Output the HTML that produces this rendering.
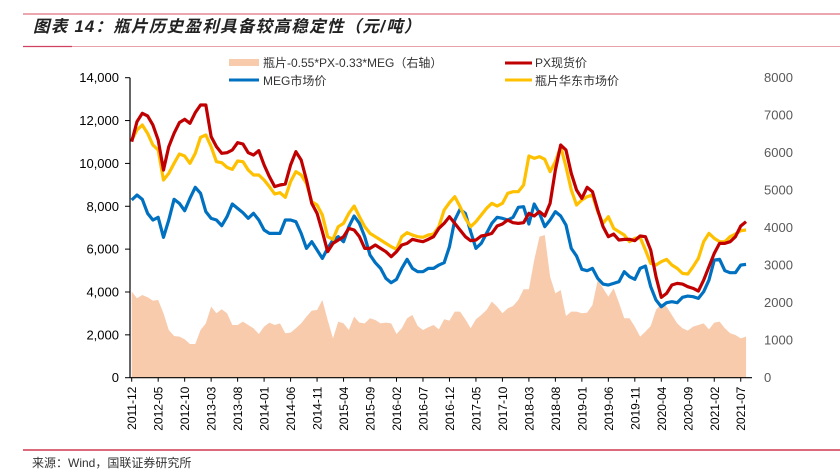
<!DOCTYPE html>
<html><head><meta charset="utf-8">
<style>
body{margin:0;background:#fff;}
#wrap{position:relative;width:840px;height:474px;overflow:hidden;font-family:"Liberation Sans","Noto Sans CJK SC",sans-serif;}
svg text{font-family:"Liberation Sans","Noto Sans CJK SC",sans-serif;}
</style></head>
<body>
<div id="wrap">
<svg id="chart" width="840" height="474">
  <line x1="23" y1="14" x2="840" y2="14" stroke="#E07080" stroke-width="1.2"/>
  <text x="33" y="32" font-size="16.5" letter-spacing="1.3" font-weight="bold" font-style="italic" fill="#222">图表 14：瓶片历史盈利具备较高稳定性（元/吨）</text>
  <line x1="23" y1="46.5" x2="840" y2="46.5" stroke="#E8A0AA" stroke-width="1"/>
  <line x1="23" y1="46.5" x2="72" y2="46.5" stroke="#D04060" stroke-width="1.2"/>
  <g id="plot"></g>
  <g id="legend">
    <rect x="229" y="59" width="30" height="7" fill="#F8CBAD"/>
    <text x="263" y="67" font-size="12" fill="#333">瓶片-0.55*PX-0.33*MEG（右轴）</text>
    <line x1="229" y1="80" x2="259" y2="80" stroke="#0070C0" stroke-width="3"/>
    <text x="263" y="85" font-size="12" fill="#333">MEG市场价</text>
    <line x1="505" y1="63" x2="532" y2="63" stroke="#C00000" stroke-width="3"/>
    <text x="535" y="67" font-size="12" fill="#333">PX现货价</text>
    <line x1="505" y1="80" x2="532" y2="80" stroke="#FFC000" stroke-width="3"/>
    <text x="535" y="85" font-size="12" fill="#333">瓶片华东市场价</text>
  </g>
  <line x1="23" y1="450" x2="840" y2="450" stroke="#C8102E" stroke-width="1.2"/>
  <text x="32" y="467" font-size="12" fill="#333">来源：Wind，国联证券研究所</text>
</svg>
</div>
<script>
const startYear = 2011, startMonth = 12;
const pxPrice = [11015,11949,12338,12213,11793,11093,9693,10782,11404,11902,12058,11871,12369,12727,12727,11249,10782,10471,10502,10626,10969,10906,10502,10393,10595,9926,9382,8915,8993,9039,9926,10548,10159,9226,8137,7670,6814,5881,6270,6425,
6581,6970,6892,6581,6036,6036,6192,6036,5881,5647,5881,6192,6270,6456,6394,6347,6456,6581,6970,7203,7514,7203,6892,6581,6394,6425,6612,6658,6736,7079,7172,7359,7234,7203,7234,7670,7546,
7748,7546,8137,9693,10860,10626,9537,8759,8370,8884,8681,7826,7048,6581,6705,6425,6456,6456,6394,6612,6581,5958,4714,3749,3936,4325,4402,4371,4247,4169,4044,4558,5180,5802,6270,6270,6347,6581,7079,7281];
const bottlePrice = [11093,11560,11793,11404,10860,10626,9226,9537,10004,10440,10346,10004,10471,11218,11327,10782,10082,10035,9817,9724,10113,10082,9693,9459,9459,9226,8915,8573,8635,8417,9148,9615,9459,9070,8215,8059,7592,6581,6456,7048,
7203,7670,8012,7514,7048,6736,6581,6425,6270,6114,5989,6581,6768,6659,6581,6550,6659,6705,7048,7826,8168,8448,7981,7437,7048,7281,7592,7903,8137,8012,8137,8604,8681,8681,8993,10346,10237,
10315,10191,9615,10082,10782,9848,8759,8059,8292,8448,8526,7748,7203,7514,6970,6814,6659,6347,6503,6550,5958,5336,5258,5414,5523,5258,5102,4869,4838,5180,5569,6347,6736,6503,6347,6347,6581,6705,6861,6892];
const megPrice = [8292,8526,8324,7670,7359,7483,6550,7359,8324,8137,7794,8370,8884,8604,7748,7437,7359,7094,7514,8106,7903,7701,7437,7670,7359,6892,6736,6736,6736,7359,7359,7281,6736,6036,6347,5958,5569,6036,6425,6581,
6347,7048,7546,7203,6581,5725,5367,5102,4636,4433,4589,5102,5523,5102,4947,4947,5102,5102,5258,5367,6114,7359,7857,7670,6814,6036,6270,6736,7203,7483,7437,7359,7483,7950,7981,7172,8106,
7670,7048,7359,7748,7546,7125,6036,5678,5056,4994,5102,4636,4371,4325,4402,4480,4947,4714,4589,5102,5211,4247,3624,3313,3500,3546,3500,3749,3811,3780,3702,4014,4558,5491,5523,4994,4900,4900,5258,5289];
const margin = [2295,2117,2206,2144,2055,2073,1717,1273,1113,1095,1024,899,899,1273,1450,1895,1717,1824,1717,1406,1406,1495,1406,1317,1166,1362,1468,1406,1450,1184,1201,1317,1450,1628,1788,1806,2073,1539,1050,1495,
1450,1273,1628,1468,1450,1584,1539,1450,1468,1450,1166,1317,1584,1672,1379,1273,1344,1406,1290,1557,1521,1762,1762,1557,1317,1557,1672,1806,2028,1895,1717,1850,1913,2073,2357,
2357,3139,3762,3806,2695,2250,2339,1646,1762,1762,1717,1735,1939,2606,2384,2162,2384,2002,1584,1584,1362,1095,1228,1379,1806,1984,1895,1672,1450,1317,1255,1362,1406,1450,1290,1468,1495,1317,1184,1139,1050,1095];
const leftTicks = [0,2000,4000,6000,8000,10000,12000,14000];
const leftTickLabels = ["0","2,000","4,000","6,000","8,000","10,000","12,000","14,000"];
const rightTicks = [0,1000,2000,3000,4000,5000,6000,7000,8000];
const labelEvery = 5;

const NS = "http://www.w3.org/2000/svg";
const plot = document.getElementById('plot');
const X0 = 131.7, DX = 5.296, Y0 = 377.7, YTOP = 77.7;
const xs = i => X0 + DX * i;
const yL = v => Y0 - (Y0 - YTOP) * v / 14000;
const yR = v => Y0 - (Y0 - YTOP) * v / 8000;
function mk(tag, attrs){const e=document.createElementNS(NS,tag);for(const k in attrs)e.setAttribute(k,attrs[k]);plot.appendChild(e);return e;}
function monthLabel(i){const m=startMonth-1+i;const y=startYear+Math.floor(m/12);const mm=(m%12)+1;return y+"-"+(mm<10?"0":"")+mm;}

let d = "M" + xs(0) + "," + Y0;
margin.forEach((v,i)=>{ d += " L" + xs(i).toFixed(2) + "," + yR(v).toFixed(2); });
d += " L" + xs(margin.length-1).toFixed(2) + "," + Y0 + " Z";
const area = mk('path',{d:d,fill:'#F8CBAD',stroke:'none'});



function line(arr,color,name){
  const pts = arr.map((v,i)=>xs(i).toFixed(2)+","+yL(v).toFixed(2)).join(" ");
  const p = mk('polyline',{points:pts,fill:'none',stroke:color,'stroke-width':3.2,'stroke-linejoin':'round'});
  
  
}
line(megPrice,'#0070C0','meg-price-line');
line(bottlePrice,'#FFC000','bottle-price-line');
line(pxPrice,'#C00000','px-price-line');

const ya = mk('line',{x1:130,y1:YTOP,x2:130,y2:Y0,stroke:'#000','stroke-width':1.2});


const xa = mk('line',{x1:130,y1:Y0,x2:752,y2:Y0,stroke:'#000','stroke-width':1.2});



leftTicks.forEach((v,k)=>{
  const y = yL(v);
  const t = mk('line',{x1:125,y1:y,x2:130,y2:y,stroke:'#000','stroke-width':1});
  
  
  const tx = mk('text',{x:119,y:y+4.5,'font-size':13,'text-anchor':'end',fill:'#000'});
  tx.textContent = leftTickLabels[k];
  
  
});
rightTicks.forEach(v=>{
  const y = yR(v);
  const tx = mk('text',{x:764,y:y+4.5,'font-size':13,fill:'#595959'});
  tx.textContent = String(v);
  
  
});
for(let i=0;i<pxPrice.length;i+=labelEvery){
  const x = xs(i);
  const t = mk('line',{x1:x,y1:Y0,x2:x,y2:Y0+4,stroke:'#000','stroke-width':1});
  
  
  const tx = mk('text',{x:0,y:0,'font-size':12,'text-anchor':'end',fill:'#000',transform:'translate('+(x+4.5)+','+(Y0+9)+') rotate(-90)'});
  tx.textContent = monthLabel(i);
  
  
}
</script>
</body></html>
